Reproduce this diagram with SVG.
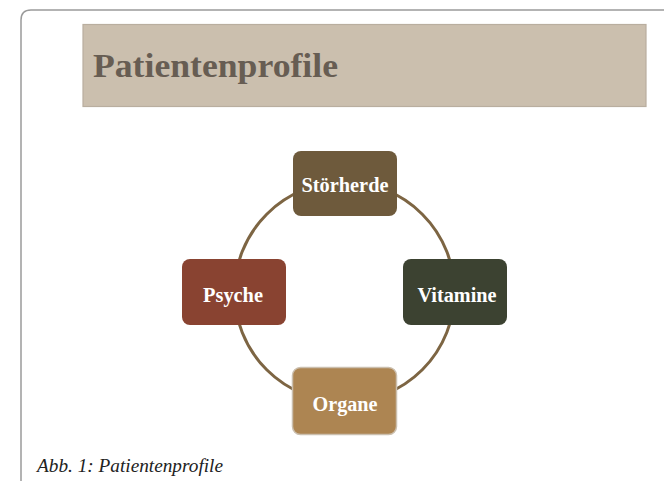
<svg xmlns="http://www.w3.org/2000/svg" width="664" height="481" viewBox="0 0 664 481">
<style>
.node{stroke:none}
.lbl{font-family:"Liberation Serif","Times New Roman",serif;font-weight:bold;font-size:20px;fill:#ffffff;text-anchor:middle}
</style>
<rect width="664" height="481" fill="#ffffff"/>
<path d="M21,481 L21,20 Q21,10 31,10 L664,10" fill="none" stroke="#9a9a9a" stroke-width="1.5"/>
<g id="header">
<rect x="83" y="24.5" width="563" height="82" fill="#cbbfae" stroke="#b9ae9f" stroke-width="1.2"/>
<text x="93" y="77" font-family="'Liberation Serif','Times New Roman',serif" font-weight="bold" font-size="33" fill="#675d53" textLength="245" lengthAdjust="spacingAndGlyphs">Patientenprofile</text>
</g>
<g id="connectors">
<circle cx="344.5" cy="292" r="110" fill="none" stroke="#7d6543" stroke-width="3"/>
</g>
<g id="stoerherde">
<rect class="node" x="293" y="151" width="104" height="65" rx="8" fill="#6e5a3c"/>
<text class="lbl" x="345" y="192" textLength="87" lengthAdjust="spacingAndGlyphs">Störherde</text>
</g>
<g id="psyche">
<rect class="node" x="182" y="259" width="104" height="66" rx="8" fill="#894331"/>
<text class="lbl" x="233" y="302" textLength="60" lengthAdjust="spacingAndGlyphs">Psyche</text>
</g>
<g id="vitamine">
<rect class="node" x="403" y="259" width="104" height="66" rx="8" fill="#3c4231"/>
<text class="lbl" x="457" y="302" textLength="79" lengthAdjust="spacingAndGlyphs">Vitamine</text>
</g>
<g id="organe">
<rect x="292.5" y="367.5" width="104" height="67" rx="8" fill="#ad8552" stroke="#cbbfae" stroke-width="1.5"/>
<text class="lbl" x="345" y="411" textLength="65" lengthAdjust="spacingAndGlyphs">Organe</text>
</g>
<text id="caption" x="37" y="472" font-family="'Liberation Serif','Times New Roman',serif" font-style="italic" font-size="19" fill="#222222" textLength="186" lengthAdjust="spacingAndGlyphs">Abb. 1: Patientenprofile</text>
</svg>
